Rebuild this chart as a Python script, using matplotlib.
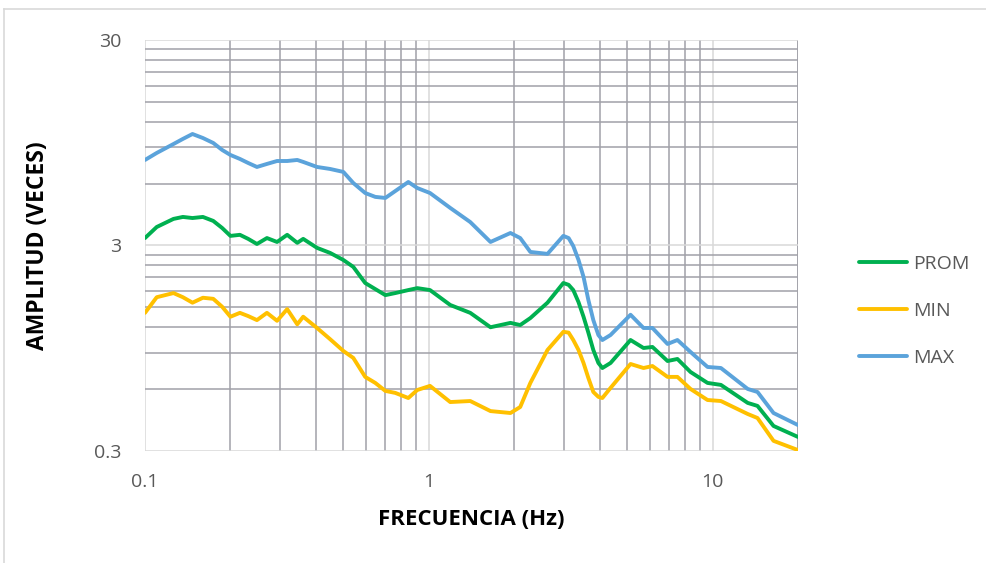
import numpy as np
import matplotlib
matplotlib.use("Agg")
import matplotlib.pyplot as plt
from matplotlib.ticker import FixedLocator, NullFormatter
from matplotlib.lines import Line2D

plt.rcParams['font.family'] = ['Open Sans', 'DejaVu Sans']

# frequency (Hz)
freq = [0.100, 0.110, 0.126, 0.136, 0.147, 0.160, 0.174, 0.187, 0.200, 0.216,
        0.231, 0.248, 0.269, 0.292, 0.317, 0.344, 0.361, 0.404, 0.449, 0.500,
        0.542, 0.597, 0.648, 0.703, 0.762, 0.847, 0.911, 1.01, 1.19, 1.40,
        1.65, 1.94, 2.10, 2.28, 2.62, 2.98, 3.11, 3.23, 3.37, 3.51, 3.65,
        3.80, 3.96, 4.09, 4.37, 5.14, 5.71, 6.14, 6.94, 7.52, 8.36,
        9.60, 10.7, 13.3, 14.4, 16.4, 20.0]

# amplitude series
prom = [3.26, 3.69, 4.04, 4.13, 4.08, 4.13, 3.95, 3.65, 3.34, 3.38,
        3.23, 3.05, 3.26, 3.12, 3.38, 3.09, 3.23, 2.92, 2.76, 2.55,
        2.36, 1.97, 1.84, 1.72, 1.76, 1.82, 1.86, 1.82, 1.54, 1.41,
        1.20, 1.26, 1.23, 1.33, 1.58, 1.97, 1.93, 1.82, 1.59, 1.35, 1.13,
        0.930, 0.804, 0.760, 0.804, 1.04, 0.951, 0.962, 0.822, 0.841, 0.727,
        0.643, 0.629, 0.514, 0.497, 0.397, 0.351]

vmin = [1.41, 1.68, 1.76, 1.68, 1.58, 1.67, 1.65, 1.51, 1.35, 1.41,
        1.36, 1.30, 1.41, 1.29, 1.47, 1.24, 1.35, 1.19, 1.05, 0.920,
        0.851, 0.688, 0.643, 0.588, 0.575, 0.543, 0.594, 0.622, 0.519, 0.525,
        0.469, 0.459, 0.491, 0.643, 0.930, 1.14, 1.13, 1.04, 0.930, 0.804, 0.680,
        0.581, 0.550, 0.543, 0.608, 0.795, 0.760, 0.777, 0.688, 0.688, 0.601,
        0.531, 0.525, 0.454, 0.434, 0.336, 0.303]

vmax = [7.82, 8.46, 9.35, 9.90, 10.46, 10.0, 9.46, 8.75, 8.27, 7.91,
        7.56, 7.23, 7.48, 7.73, 7.73, 7.82, 7.65, 7.23, 7.07, 6.84,
        6.04, 5.40, 5.17, 5.11, 5.52, 6.11, 5.71, 5.40, 4.57, 3.90,
        3.12, 3.45, 3.26, 2.79, 2.73, 3.34, 3.26, 2.98, 2.55, 2.11, 1.63,
        1.30, 1.10, 1.04, 1.10, 1.38, 1.19, 1.19, 0.995, 1.04, 0.910,
        0.769, 0.760, 0.601, 0.581, 0.459, 0.401]

labels = ['PROM', 'MIN', 'MAX']
colors = ['#00B050', '#FFC000', '#5BA3DB']

fig = plt.figure(figsize=(9.87, 5.63), dpi=100)
ax = fig.add_axes([0.1469, 0.199, 0.6616, 0.730])

for ys, lab, col in zip([prom, vmin, vmax], labels, colors):
    ax.plot(freq, ys, color=col, lw=2.8, label=lab,
            solid_joinstyle='round', solid_capstyle='round', zorder=3)

ax.set_xscale('log')
ax.set_yscale('log')
ax.set_xlim(0.1, 20)
ax.set_ylim(0.3, 30)

# ticks
xmaj = [0.1, 1, 10]
xmin = [k * d for d in [0.1, 1, 10] for k in range(2, 10)] + [20]
xmin = [v for v in xmin if v <= 20]
ymaj = [0.3, 3, 30]
ymin = [k * d for d in [0.3, 3] for k in range(2, 10)]

ax.xaxis.set_major_locator(FixedLocator(xmaj))
ax.xaxis.set_minor_locator(FixedLocator(xmin))
ax.yaxis.set_major_locator(FixedLocator(ymaj))
ax.yaxis.set_minor_locator(FixedLocator(ymin))
ax.set_xticklabels(['0.1', '1', '10'])
ax.set_yticklabels(['0.3', '3', '30'])
ax.xaxis.set_minor_formatter(NullFormatter())
ax.yaxis.set_minor_formatter(NullFormatter())

ax.grid(True, which='major', color='#D9D9D9', lw=1.1)
ax.grid(True, which='minor', color='#A0A0A8', lw=1.1)
ax.set_axisbelow(True)
for s in ax.spines.values():
    s.set_visible(False)

ax.tick_params(which='both', length=0)
ax.tick_params(axis='x', pad=16, labelsize=14, labelcolor='#595959')
ax.tick_params(axis='y', pad=17, labelsize=14, labelcolor='#595959')

ax.set_xlabel('FRECUENCIA (Hz)', fontsize=16, fontweight='bold', color='black', labelpad=13)
ax.set_ylabel('AMPLITUD (VECES)', fontsize=16.5, fontweight='bold', color='black', labelpad=32)

leg = ax.legend(loc='upper left', bbox_to_anchor=(0.862, 0.5615), bbox_transform=fig.transFigure,
                frameon=False, fontsize=14, handlelength=2.5, handletextpad=0.3,
                labelspacing=1.5, borderaxespad=0)
for t in leg.get_texts():
    t.set_color('#595959')

# chart area border
fig.add_artist(Line2D([4 / 987, 1], [1 - 9 / 563, 1 - 9 / 563], color='#D9D9D9', lw=1.2,
                      transform=fig.transFigure))
fig.add_artist(Line2D([4 / 987, 4 / 987], [0, 1 - 9 / 563], color='#D9D9D9', lw=1.2,
                      transform=fig.transFigure))

fig.savefig('out.png', dpi=100)
